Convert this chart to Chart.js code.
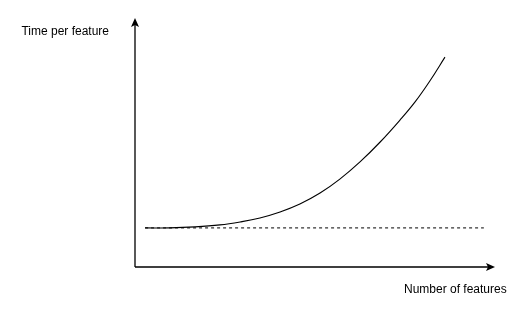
<!DOCTYPE html>
<html>
<head>
<meta charset="utf-8">
<script src="https://cdn.jsdelivr.net/npm/chart.js@4"></script>
<style>
    body { margin: 0; background: #fff; }
    #wrap { width: 530px; height: 316px; position: relative; }
</style>
</head>
<body>
<div id="wrap"><canvas id="featureChart"></canvas></div>
<script>
// values (both axes 0..100, unitless)
const curveX = [2.8, 9.7, 16.7, 23.6, 29.2, 34.7, 40.3, 45.8, 51.4, 56.9, 62.5, 68.1, 73.6, 77.8, 81.9, 86.1];
const curveY = [15.7, 15.7, 16.1, 16.9, 18.1, 19.7, 22.1, 25.3, 29.7, 35.3, 42.2, 50.2, 59.0, 66.3, 74.7, 84.3];
const baselineX = [2.8, 96.9];
const baselineY = [15.7, 15.7];
const yLabel = "Time per feature";
const xLabel = "Number of features";

const FONT = "12px 'Liberation Sans', Arial, sans-serif";

// draws the two arrowed axes and their labels
const sketchAxes = {
    id: "sketchAxes",
    afterDraw(chart) {
        const ctx = chart.ctx;
        const x = chart.scales.x;
        const y = chart.scales.y;
        const x0 = x.getPixelForValue(0);
        const x1 = x.getPixelForValue(100);
        const y0 = y.getPixelForValue(0);
        const y1 = y.getPixelForValue(100);

        ctx.save();
        ctx.strokeStyle = "#000";
        ctx.fillStyle = "#000";
        ctx.lineWidth = 1.3;

        ctx.beginPath();
        ctx.moveTo(x0, y0);
        ctx.lineTo(x0, y1 + 6);
        ctx.moveTo(x0, y0);
        ctx.lineTo(x1 - 6, y0);
        ctx.stroke();

        // arrow heads
        ctx.beginPath();
        ctx.moveTo(x0, y1);
        ctx.lineTo(x0 + 4, y1 + 9);
        ctx.lineTo(x0, y1 + 7);
        ctx.lineTo(x0 - 4, y1 + 9);
        ctx.closePath();
        ctx.fill();

        ctx.beginPath();
        ctx.moveTo(x1, y0);
        ctx.lineTo(x1 - 9, y0 - 4);
        ctx.lineTo(x1 - 7, y0);
        ctx.lineTo(x1 - 9, y0 + 4);
        ctx.closePath();
        ctx.fill();

        ctx.font = FONT;
        ctx.textBaseline = "middle";
        ctx.textAlign = "right";
        ctx.fillText(yLabel, x0 - 26, y1 + 14);
        ctx.textAlign = "left";
        ctx.fillText(xLabel, x1 - 91, y0 + 23);
        ctx.restore();
    }
};

const toPoints = (xs, ys) => xs.map((v, i) => ({ x: v, y: ys[i] }));

new Chart(document.getElementById("featureChart"), {
    type: "line",
    data: {
        datasets: [
            {
                data: toPoints(baselineX, baselineY),
                borderColor: "#000",
                borderWidth: 1,
                borderDash: [3, 3],
                pointRadius: 0
            },
            {
                data: toPoints(curveX, curveY),
                borderColor: "#000",
                borderWidth: 1.1,
                pointRadius: 0,
                tension: 0.4
            }
        ]
    },
    options: {
        responsive: true,
        maintainAspectRatio: false,
        animation: false,
        layout: { padding: { left: 135, right: 35, top: 18, bottom: 49 } },
        plugins: { legend: { display: false }, tooltip: { enabled: false } },
        scales: {
            x: { type: "linear", min: 0, max: 100, display: false },
            y: { type: "linear", min: 0, max: 100, display: false }
        }
    },
    plugins: [sketchAxes]
});
</script>
</body>
</html>
